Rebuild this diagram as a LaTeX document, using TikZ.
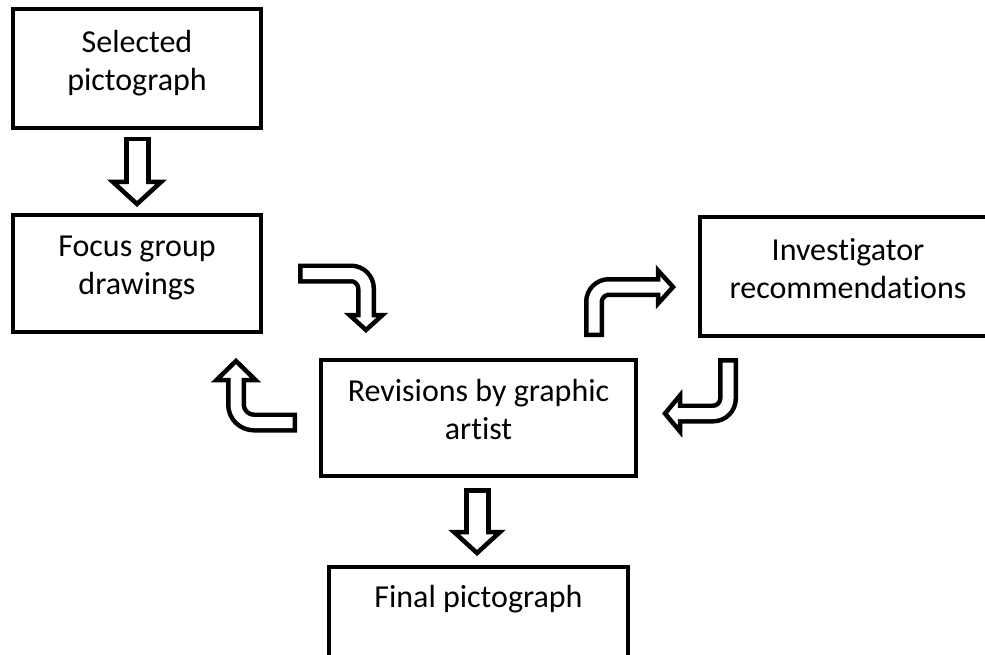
\documentclass[tikz,border=0pt]{standalone}
\usepackage{fontspec}
\setmainfont[Ligatures=NoCommon]{Carlito}
\usepackage{tikz}
\tikzset{box/.style={draw, rectangle, line width=4pt, align=center, text depth=17pt, font=\fontsize{32}{38}\selectfont}}
\tikzset{shaft/.style={line width=#1}, core/.style={white, line width=#1, shorten <=4.5pt, shorten >=-4pt}}
\tikzset{head/.style={draw, fill=white, line width=4.5pt, line join=miter}}

\begin{document}
\begin{tikzpicture}[x=1pt, y=-1pt]
        \useasboundingbox (0,0) rectangle (985,655);
        \clip (0,0) rectangle (985,655);

        % Boxes of the process
        \node[box, minimum width=248pt, minimum height=119pt] (sel) at (137,68.5) {Selected\\pictograph};
        \node[box, minimum width=248pt, minimum height=117pt] (focus) at (137,273.5) {Focus group\\drawings};
        \node[box, minimum width=315pt, minimum height=116pt] (rev) at (478.5,418) {Revisions by graphic\\artist};
        \node[box, minimum width=296pt, minimum height=119pt] (inv) at (848,276.5) {Investigator\\recommendations};
        \node[box, minimum width=299pt, minimum height=102pt, text depth=44pt] (final) at (478.5,618) {Final pictograph};

        % Block arrows: black shaft, open head, white core
        \coordinate (sel-tail) at (137,137);
        \coordinate (sel-head) at (137,182);
        \draw[shaft=27pt] (sel-tail) -- (sel-head);
        \draw[head] (sel-head) ++(-24,0) -- ++(24,22) -- ++(24,-22) -- cycle;
        \draw[core=17pt] (sel-tail) -- (sel-head);

        \coordinate (focus-tail) at (298,273.5);
        \coordinate (focus-head) at (366,315);
        \draw[shaft=20pt, rounded corners=15pt] (focus-tail) -| (focus-head);
        \draw[head] (focus-head) ++(-16.5,0) -- ++(16.5,15) -- ++(16.5,-15) -- cycle;
        \draw[core=11pt, rounded corners=15pt] (focus-tail) -| (focus-head);

        \coordinate (rev-tail) at (297,422.5);
        \coordinate (rev-head) at (236,380);
        \draw[shaft=20pt, rounded corners=18pt] (rev-tail) -| (rev-head);
        \draw[head] (rev-head) ++(-19.5,0) -- ++(19.5,-19) -- ++(19.5,19) -- cycle;
        \draw[core=11pt, rounded corners=18pt] (rev-tail) -| (rev-head);

        \coordinate (out-tail) at (594,337);
        \coordinate (out-head) at (658,287);
        \draw[shaft=20pt, rounded corners=15pt] (out-tail) |- (out-head);
        \draw[head] (out-head) ++(0,-16.5) -- ++(15,16.5) -- ++(-15,16.5) -- cycle;
        \draw[core=11pt, rounded corners=15pt] (out-tail) |- (out-head);

        \coordinate (inv-tail) at (728,358);
        \coordinate (inv-head) at (680,413.5);
        \draw[shaft=20pt, rounded corners=15pt] (inv-tail) |- (inv-head);
        \draw[head] (inv-head) ++(0,-18) -- ++(-15,18) -- ++(15,18) -- cycle;
        \draw[core=11pt, rounded corners=15pt] (inv-tail) |- (inv-head);

        \coordinate (final-tail) at (477,488);
        \coordinate (final-head) at (477,532);
        \draw[shaft=27pt] (final-tail) -- (final-head);
        \draw[head] (final-head) ++(-23,0) -- ++(23,21) -- ++(23,-21) -- cycle;
        \draw[core=17pt] (final-tail) -- (final-head);
    \end{tikzpicture}
\end{document}
